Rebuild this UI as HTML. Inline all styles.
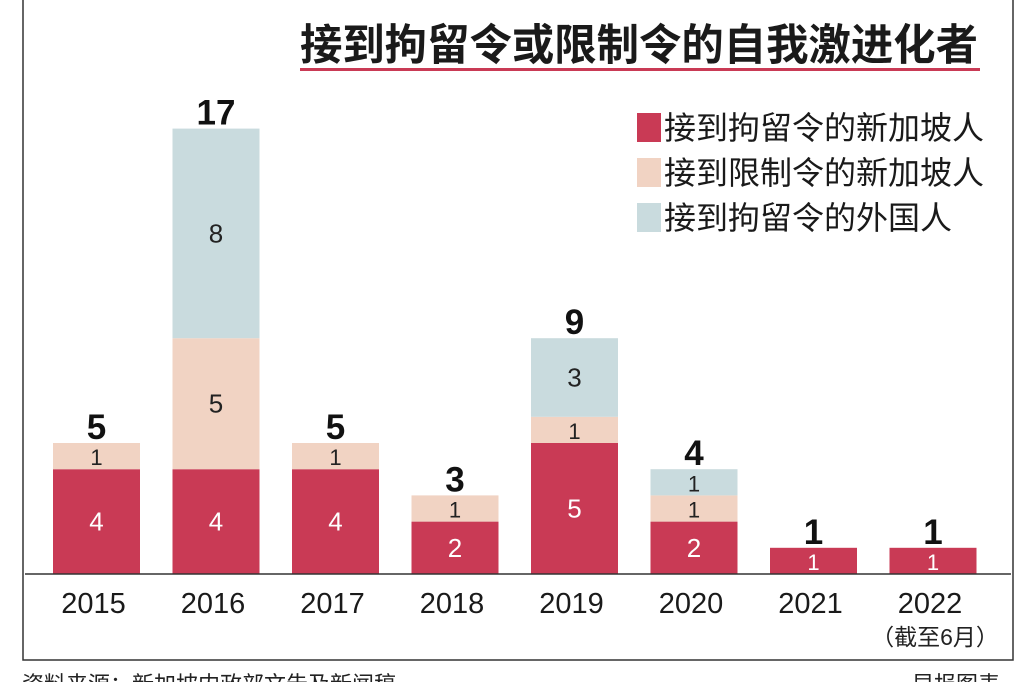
<!DOCTYPE html>
<html><head><meta charset="utf-8"><style>
html,body{margin:0;padding:0;background:#fff;width:1024px;height:682px;overflow:hidden}
svg{display:block}
text{font-family:"Liberation Sans","Noto Sans CJK SC",sans-serif}
</style></head><body>
<svg id="chart" width="1024" height="682">
<rect x="23" y="-5" width="990" height="665" fill="none" stroke="#333" stroke-width="1.5"/>
<text x="300" y="60" font-size="43" font-weight="bold" textLength="678" lengthAdjust="spacingAndGlyphs" fill="#1a1a1a">接到拘留令或限制令的自我激进化者</text>
<rect x="300" y="68" width="680" height="3" fill="#c93a55"/>
<g id="legend"></g>
<g id="bars"></g>
<line x1="25" y1="574" x2="1011" y2="574" stroke="#333" stroke-width="1.5"/>
<g id="xlabels"></g>
<text x="935" y="645" font-size="23" text-anchor="middle" fill="#222">（截至6月）</text>
<text x="22" y="692" font-size="22" fill="#222">资料来源：新加坡内政部文告及新闻稿</text>
<text x="1000" y="692" font-size="22" text-anchor="end" fill="#222">早报图表</text>
</svg>
<script>
const categories=["2015","2016","2017","2018","2019","2020","2021","2022"];
const detainedSG=[4,4,4,2,5,2,1,1];
const restrictedSG=[1,5,1,1,1,1,0,0];
const detainedForeign=[0,8,0,0,3,1,0,0];
const seriesNames=["接到拘留令的新加坡人","接到限制令的新加坡人","接到拘留令的外国人"];
const colors=["#c93a55","#f1d3c3","#c9dbde"];
const NS="http://www.w3.org/2000/svg";
const base=574, unit=26.2, x0=53, step=119.5, bw=87;
const y=v=>base-v*unit;
const xb=i=>x0+i*step;
function mk(tag,attrs,parent,txt){const e=document.createElementNS(NS,tag);for(const k in attrs)e.setAttribute(k,attrs[k]);if(txt!==undefined)e.textContent=txt;parent.appendChild(e);return e;}
const bars=document.getElementById('bars'),xl=document.getElementById('xlabels'),lg=document.getElementById('legend');
const series=[detainedSG,restrictedSG,detainedForeign];
categories.forEach((c,i)=>{
  let cum=0;
  series.forEach((s,k)=>{
    const v=s[i]; if(!v) return;
    const r=mk('rect',{x:xb(i),y:y(cum+v),width:bw,height:v*unit,fill:colors[k]},bars);
    
    
    const t=mk('text',{x:xb(i)+bw/2,y:y(cum+v/2)+9,'font-size':v>1?26:22,'text-anchor':'middle',fill:k===0?'#fff':'#222'},bars,String(v));
    
    
    cum+=v;
  });
  const tot=mk('text',{x:xb(i)+bw/2,y:y(cum)-4,'font-size':35,'font-weight':'bold','text-anchor':'middle',fill:'#111'},bars,String(cum));
  
  
  const l=mk('text',{x:xb(i)+bw/2-3,y:613,'font-size':29,'text-anchor':'middle',fill:'#1a1a1a'},xl,c);
  
  
});
seriesNames.forEach((n,k)=>{
  const yy=113+k*45;
  const s=mk('rect',{x:637,y:yy,width:24,height:29,fill:colors[k]},lg);
  
  
  const t=mk('text',{x:664,y:yy+26,'font-size':32,fill:'#1a1a1a'},lg,n);
  
  
});
</script>
</body></html>
